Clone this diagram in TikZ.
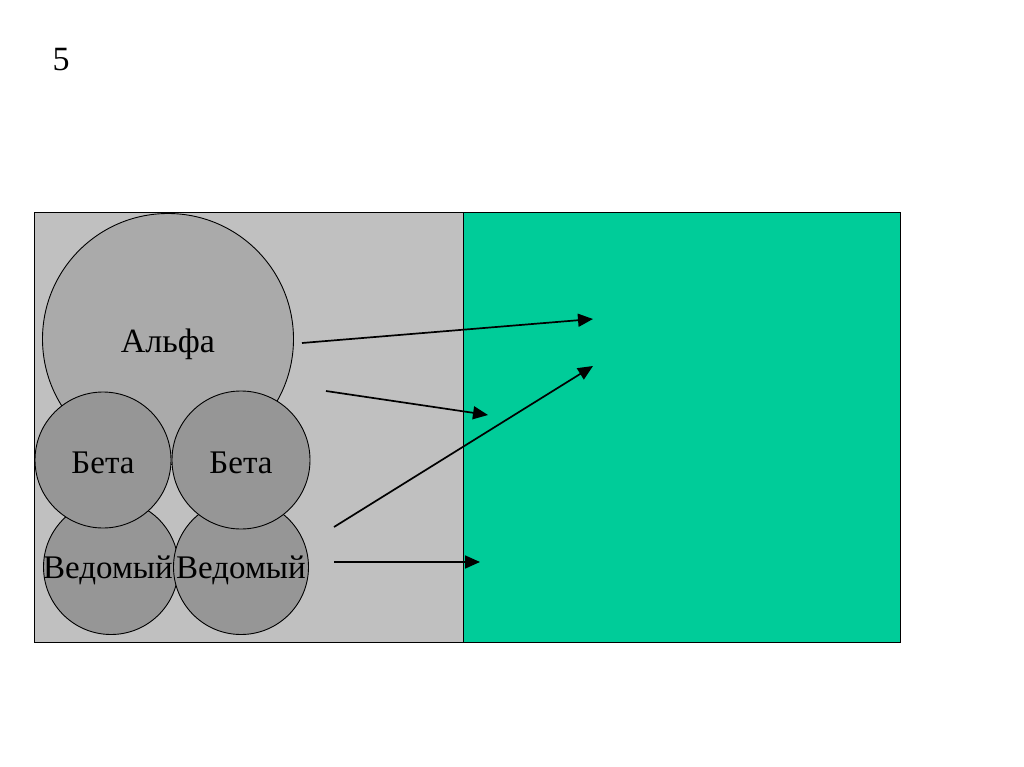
\documentclass[tikz,border=0pt]{standalone}
\usepackage{fontspec}
\setmainfont{Liberation Serif}
\usetikzlibrary{positioning,arrows.meta}

\definecolor{fondo}{RGB}{192,192,192}
\definecolor{verde}{RGB}{0,204,153}
\definecolor{grisalfa}{RGB}{170,170,170}
\definecolor{grisbeta}{RGB}{150,150,150}

\begin{document}
\begin{tikzpicture}[
    x=1pt, y=-1pt,
    zona/.style={
        draw,
        line width=1pt
    },
    bola/.style={
        draw,
        circle,
        inner sep=0pt,
        line width=0.9pt
    },
    letrero/.style={
        inner sep=0pt,
        font=\fontsize{33}{38}\selectfont
    },
    flecha/.style={
        -{Triangle[length=15pt,width=13pt]},
        line width=1.7pt
    }
]
\useasboundingbox[fill=white] (0,0) rectangle (1024,767);

\node[font=\fontsize{34}{40}\selectfont] (numero) at (61,60) {5};

\draw[zona, fill=fondo] (34,213) rectangle (463,642);
\draw[zona, fill=verde] (463,213) rectangle (900,642);

\node[bola, fill=grisalfa, minimum size=251pt] (alfa) at (168,339) {};

\node[bola, fill=grisbeta, minimum size=135pt] (ved1) at (111,567) {};
\node[bola, fill=grisbeta, minimum size=135pt] (ved2) at (241,567) {};
\node[bola, fill=grisbeta, minimum size=136pt] (beta1) at (103,460) {};
\node[bola, fill=grisbeta, minimum size=138pt] (beta2) at (241,460) {};

\node[letrero, font=\fontsize{34}{40}\selectfont, yshift=-5pt] at (alfa.center) {Альфа};
\node[letrero, yshift=-3pt] at (beta1.center) {Бета};
\node[letrero, yshift=-3pt] at (beta2.center) {Бета};
\node[letrero, yshift=-3pt, xshift=-3pt] at (ved1.center) {Ведомый};
\node[letrero, yshift=-3pt] at (ved2.center) {Ведомый};

\coordinate (a1) at (302,343);
\coordinate (b1) at (593,319);
\coordinate (a2) at (326,391);
\coordinate (b2) at (488,415);
\coordinate (a3) at (334,527);
\coordinate (b3) at (593,366);
\coordinate (a4) at (334,562);
\coordinate (b4) at (480,562);

\draw[flecha] (a1) -- (b1);
\draw[flecha] (a2) -- (b2);
\draw[flecha] (a3) -- (b3);
\draw[flecha] (a4) -- (b4);

\end{tikzpicture}
\end{document}
